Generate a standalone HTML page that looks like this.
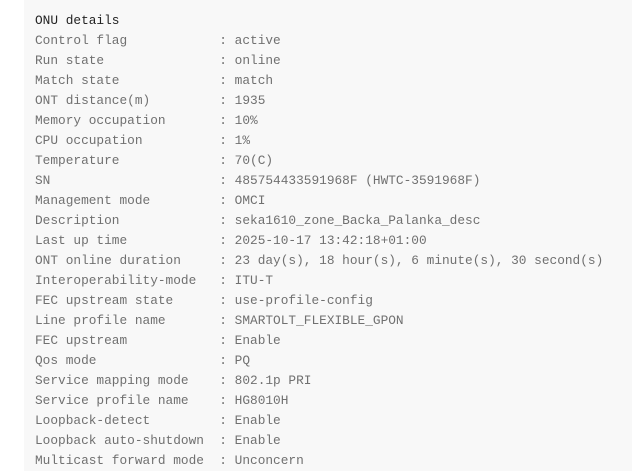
<html><head><style>
body{margin:0;background:#fff;width:632px;height:471px;overflow:hidden}
.b{position:absolute;left:24px;top:0;width:608px;height:471px;background:#f8f8f8}
pre{position:absolute;left:35px;top:11px;margin:0;font-family:"Liberation Mono",monospace;font-size:12.8px;line-height:20px;color:#707070}
pre b{font-weight:normal;color:#222}
</style></head><body><div class="b"></div><pre><b>ONU details</b>
Control flag            : active
Run state               : online
Match state             : match
ONT distance(m)         : 1935
Memory occupation       : 10%
CPU occupation          : 1%
Temperature             : 70(C)
SN                      : 485754433591968F (HWTC-3591968F)
Management mode         : OMCI
Description             : seka1610_zone_Backa_Palanka_desc
Last up time            : 2025-10-17 13:42:18+01:00
ONT online duration     : 23 day(s), 18 hour(s), 6 minute(s), 30 second(s)
Interoperability-mode   : ITU-T
FEC upstream state      : use-profile-config
Line profile name       : SMARTOLT_FLEXIBLE_GPON
FEC upstream            : Enable
Qos mode                : PQ
Service mapping mode    : 802.1p PRI
Service profile name    : HG8010H
Loopback-detect         : Enable
Loopback auto-shutdown  : Enable
Multicast forward mode  : Unconcern</pre></body></html>
